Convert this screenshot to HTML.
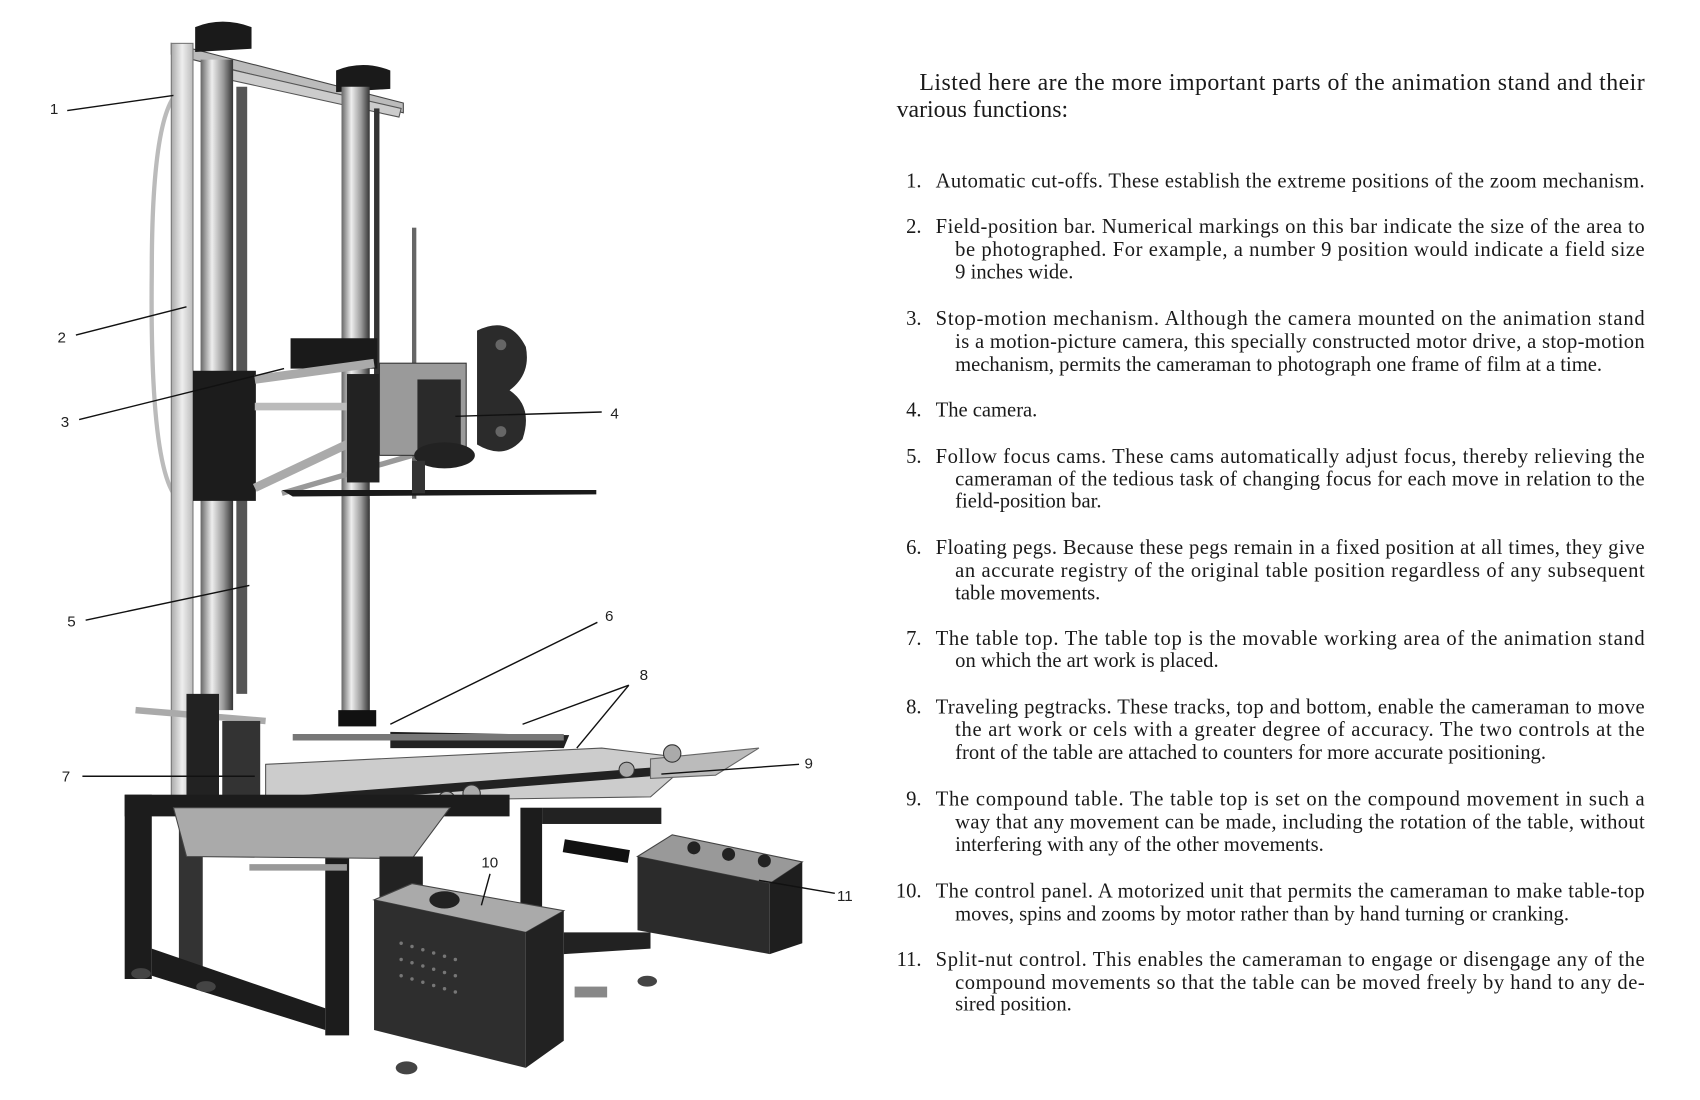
<!DOCTYPE html>
<html><head><meta charset="utf-8"><style>
html,body{margin:0;padding:0;background:#fff;width:1700px;height:1100px;overflow:hidden}
svg{display:block}
.t{font-family:"Liberation Serif",serif;font-size:19px;fill:#1a1a1a}
.h{font-family:"Liberation Serif",serif;font-size:22px;fill:#1a1a1a}
.l{font-family:"Liberation Sans",sans-serif;font-size:14px;fill:#222}
.ld{stroke:#111;stroke-width:1.3;fill:none}
</style></head><body>
<svg width="1700" height="1100" viewBox="0 0 1568 1014.6" preserveAspectRatio="none">
<defs>
<linearGradient id="col" x1="0" x2="1"><stop offset="0" stop-color="#666"/><stop offset=".35" stop-color="#eee"/><stop offset=".7" stop-color="#999"/><stop offset="1" stop-color="#333"/></linearGradient>
<linearGradient id="bar" x1="0" x2="1"><stop offset="0" stop-color="#aaa"/><stop offset=".5" stop-color="#eee"/><stop offset="1" stop-color="#bbb"/></linearGradient>
</defs>
<g>
<polygon points="158,40 372,95 372,104 158,50" fill="#bbb" stroke="#444"/>
<polygon points="195,60 370,100 368,108 195,70" fill="#ccc" stroke="#555"/>
<path d="M180,25 Q205,15 232,25 L232,45 L180,48Z" fill="#1a1a1a"/>
<path d="M310,65 Q335,55 360,65 L360,82 L310,85Z" fill="#1a1a1a"/>
<path d="M160,90 Q140,120 140,250 Q138,420 160,455" stroke="#bbb" stroke-width="4" fill="none"/>
<rect x="158" y="40" width="20" height="700" fill="url(#bar)" stroke="#777"/>
<rect x="185" y="55" width="30" height="600" fill="url(#col)"/>
<rect x="218" y="80" width="10" height="560" fill="#555"/>
<rect x="315" y="80" width="26" height="585" fill="url(#col)"/>
<rect x="345" y="100" width="5" height="270" fill="#333"/>
<rect x="380" y="210" width="4" height="250" fill="#666"/>
<rect x="178" y="342" width="58" height="120" fill="#1c1c1c"/>
<rect x="268" y="312" width="80" height="28" fill="#1a1a1a"/>
<line x1="235" y1="350" x2="345" y2="335" stroke="#aaa" stroke-width="8"/>
<line x1="235" y1="375" x2="320" y2="375" stroke="#bbb" stroke-width="7"/>
<line x1="235" y1="450" x2="345" y2="398" stroke="#aaa" stroke-width="8"/>
<line x1="260" y1="455" x2="380" y2="420" stroke="#999" stroke-width="5"/>
<rect x="320" y="345" width="30" height="100" fill="#222"/>
<rect x="350" y="335" width="80" height="85" fill="#9a9a9a" stroke="#333"/>
<rect x="385" y="350" width="40" height="70" fill="#2a2a2a"/>
<ellipse cx="410" cy="420" rx="28" ry="12" fill="#222"/>
<path d="M440,305 Q470,290 485,320 Q490,345 470,360 Q492,375 482,405 Q465,425 440,410Z" fill="#2b2b2b"/>
<circle cx="462" cy="318" r="5" fill="#666"/><circle cx="462" cy="398" r="5" fill="#666"/>
<polygon points="260,452 550,452 550,456 270,458" fill="#1a1a1a"/>
<rect x="380" y="425" width="12" height="30" fill="#333"/>
<rect x="315" y="460" width="26" height="200" fill="url(#col)"/>
<rect x="312" y="655" width="35" height="15" fill="#111"/>
<polygon points="245,705 555,690 640,700 600,735 245,740" fill="#ccc" stroke="#555"/>
<polygon points="360,675 525,678 520,690 360,690" fill="#222"/>
<line x1="125" y1="655" x2="245" y2="665" stroke="#aaa" stroke-width="6"/>
<line x1="270" y1="680" x2="520" y2="680" stroke="#777" stroke-width="6"/>
<line x1="245" y1="740" x2="600" y2="712" stroke="#222" stroke-width="8"/>
<polygon points="600,700 700,690 660,715 600,718" fill="#bbb" stroke="#666"/>
<circle cx="412" cy="738" r="8" fill="#aaa" stroke="#333"/><circle cx="435" cy="732" r="8" fill="#aaa" stroke="#333"/>
<circle cx="578" cy="710" r="7" fill="#aaa" stroke="#333"/><circle cx="620" cy="695" r="8" fill="#aaa" stroke="#333"/>
<rect x="172" y="640" width="30" height="105" fill="#222"/>
<rect x="205" y="665" width="35" height="75" fill="#333"/>
<rect x="115" y="733" width="355" height="20" fill="#1c1c1c"/>
<rect x="115" y="733" width="25" height="170" fill="#1c1c1c"/>
<rect x="165" y="755" width="22" height="150" fill="#333"/>
<rect x="300" y="780" width="22" height="175" fill="#1c1c1c"/>
<polygon points="140,875 300,930 300,950 140,900" fill="#1c1c1c"/>
<polygon points="160,745 415,745 380,792 172,790" fill="#aaa" stroke="#444"/>
<line x1="230" y1="800" x2="320" y2="800" stroke="#999" stroke-width="6"/>
<rect x="350" y="790" width="40" height="45" fill="#222"/>
<rect x="480" y="745" width="20" height="115" fill="#1c1c1c"/>
<rect x="500" y="745" width="110" height="15" fill="#222"/>
<polygon points="520,860 600,860 600,875 520,880" fill="#222"/>
<line x1="520" y1="780" x2="580" y2="790" stroke="#111" stroke-width="12"/>
<polygon points="345,830 380,815 520,840 485,860" fill="#aaa" stroke="#444"/>
<polygon points="345,830 485,860 485,985 345,950" fill="#2e2e2e"/>
<polygon points="485,860 520,840 520,960 485,985" fill="#222"/>
<g fill="#777"><circle cx="370" cy="870" r="1.6"/><circle cx="380" cy="873" r="1.6"/><circle cx="390" cy="876" r="1.6"/><circle cx="400" cy="879" r="1.6"/><circle cx="410" cy="882" r="1.6"/><circle cx="420" cy="885" r="1.6"/><circle cx="370" cy="885" r="1.6"/><circle cx="380" cy="888" r="1.6"/><circle cx="390" cy="891" r="1.6"/><circle cx="400" cy="894" r="1.6"/><circle cx="410" cy="897" r="1.6"/><circle cx="420" cy="900" r="1.6"/><circle cx="370" cy="900" r="1.6"/><circle cx="380" cy="903" r="1.6"/><circle cx="390" cy="906" r="1.6"/><circle cx="400" cy="909" r="1.6"/><circle cx="410" cy="912" r="1.6"/><circle cx="420" cy="915" r="1.6"/></g>
<ellipse cx="410" cy="830" rx="14" ry="8" fill="#222"/>
<polygon points="588,790 620,770 740,795 710,815" fill="#999" stroke="#444"/>
<polygon points="588,790 710,815 710,880 588,858" fill="#2b2b2b"/>
<polygon points="710,815 740,795 740,870 710,880" fill="#1e1e1e"/>
<circle cx="640" cy="782" r="6" fill="#222"/><circle cx="672" cy="788" r="6" fill="#222"/><circle cx="705" cy="794" r="6" fill="#222"/>
<ellipse cx="130" cy="898" rx="9" ry="5" fill="#444"/><ellipse cx="190" cy="910" rx="9" ry="5" fill="#444"/>
<ellipse cx="375" cy="985" rx="10" ry="6" fill="#444"/><ellipse cx="597" cy="905" rx="9" ry="5" fill="#444"/>
<rect x="530" y="910" width="30" height="10" fill="#888"/>
</g>
<g class="ld">
<line x1="62" y1="102" x2="160" y2="88"/>
<line x1="70" y1="309" x2="172" y2="283"/>
<line x1="73" y1="387" x2="262" y2="340"/>
<line x1="555" y1="380" x2="420" y2="384"/>
<line x1="79" y1="572" x2="230" y2="540"/>
<line x1="551" y1="574" x2="360" y2="668"/>
<line x1="580" y1="632" x2="482" y2="668"/>
<line x1="580" y1="632" x2="532" y2="690"/>
<line x1="76" y1="716" x2="235" y2="716"/>
<line x1="737" y1="705" x2="610" y2="714"/>
<line x1="452" y1="806" x2="444" y2="835"/>
<line x1="770" y1="824" x2="700" y2="812"/>
</g>
<g class="l">
<text x="46" y="105">1</text><text x="53" y="316">2</text><text x="56" y="394">3</text>
<text x="563" y="386">4</text><text x="62" y="578">5</text><text x="558" y="573">6</text>
<text x="57" y="721">7</text><text x="590" y="627">8</text><text x="742" y="709">9</text>
<text x="444" y="800">10</text><text x="772" y="831">11</text>
</g>
<text class="h" x="848" y="83" textLength="669" lengthAdjust="spacing">Listed here are the more important parts of the animation stand and their</text>
<text class="h" x="827" y="108">various functions:</text>
<g class="t">
<text x="850" y="173" text-anchor="end">1.</text><text x="863" y="173" textLength="654" lengthAdjust="spacing">Automatic cut-offs. These establish the extreme positions of the zoom mechanism.</text>
<text x="850" y="215" text-anchor="end">2.</text><text x="863" y="215" textLength="654" lengthAdjust="spacing">Field-position bar. Numerical markings on this bar indicate the size of the area to</text>
<text x="881" y="236" textLength="636" lengthAdjust="spacing">be photographed. For example, a number 9 position would indicate a field size</text>
<text x="881" y="257">9 inches wide.</text>
<text x="850" y="300" text-anchor="end">3.</text><text x="863" y="300" textLength="654" lengthAdjust="spacing">Stop-motion mechanism. Although the camera mounted on the animation stand</text>
<text x="881" y="321" textLength="636" lengthAdjust="spacing">is a motion-picture camera, this specially constructed motor drive, a stop-motion</text>
<text x="881" y="342">mechanism, permits the cameraman to photograph one frame of film at a time.</text>
<text x="850" y="384" text-anchor="end">4.</text><text x="863" y="384">The camera.</text>
<text x="850" y="427" text-anchor="end">5.</text><text x="863" y="427" textLength="654" lengthAdjust="spacing">Follow focus cams. These cams automatically adjust focus, thereby relieving the</text>
<text x="881" y="448" textLength="636" lengthAdjust="spacing">cameraman of the tedious task of changing focus for each move in relation to the</text>
<text x="881" y="468">field-position bar.</text>
<text x="850" y="511" text-anchor="end">6.</text><text x="863" y="511" textLength="654" lengthAdjust="spacing">Floating pegs. Because these pegs remain in a fixed position at all times, they give</text>
<text x="881" y="532" textLength="636" lengthAdjust="spacing">an accurate registry of the original table position regardless of any subsequent</text>
<text x="881" y="553">table movements.</text>
<text x="850" y="595" text-anchor="end">7.</text><text x="863" y="595" textLength="654" lengthAdjust="spacing">The table top. The table top is the movable working area of the animation stand</text>
<text x="881" y="615">on which the art work is placed.</text>
<text x="850" y="658" text-anchor="end">8.</text><text x="863" y="658" textLength="654" lengthAdjust="spacing">Traveling pegtracks. These tracks, top and bottom, enable the cameraman to move</text>
<text x="881" y="679" textLength="636" lengthAdjust="spacing">the art work or cels with a greater degree of accuracy. The two controls at the</text>
<text x="881" y="700">front of the table are attached to counters for more accurate positioning.</text>
<text x="850" y="743" text-anchor="end">9.</text><text x="863" y="743" textLength="654" lengthAdjust="spacing">The compound table. The table top is set on the compound movement in such a</text>
<text x="881" y="764" textLength="636" lengthAdjust="spacing">way that any movement can be made, including the rotation of the table, without</text>
<text x="881" y="785">interfering with any of the other movements.</text>
<text x="850" y="828" text-anchor="end">10.</text><text x="863" y="828" textLength="654" lengthAdjust="spacing">The control panel. A motorized unit that permits the cameraman to make table-top</text>
<text x="881" y="849">moves, spins and zooms by motor rather than by hand turning or cranking.</text>
<text x="850" y="891" text-anchor="end">11.</text><text x="863" y="891" textLength="654" lengthAdjust="spacing">Split-nut control. This enables the cameraman to engage or disengage any of the</text>
<text x="881" y="912" textLength="636" lengthAdjust="spacing">compound movements so that the table can be moved freely by hand to any de-</text>
<text x="881" y="932">sired position.</text>
</g>
</svg>
</body></html>
